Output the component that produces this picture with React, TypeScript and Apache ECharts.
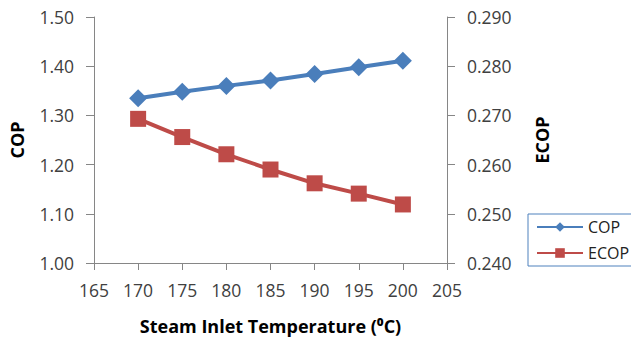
import React, { useEffect, useRef } from "react";
import * as echarts from "echarts";

const temperatures = [170, 175, 180, 185, 190, 195, 200];
const copValues = [1.335, 1.348, 1.36, 1.371, 1.384, 1.398, 1.411];
const ecopValues = [0.2693, 0.2656, 0.2621, 0.259, 0.2562, 0.2541, 0.2519];
const seriesNames = ["COP", "ECOP"];
const xTitle = "Steam Inlet Temperature (⁰C)";

export default function App() {
  const ref = useRef<HTMLDivElement>(null);
  useEffect(() => {
    if (!ref.current) return;
    const chart = echarts.init(ref.current, undefined, { renderer: "svg" });
    const font = "'Open Sans', sans-serif";
    const axisLine = { show: true, lineStyle: { color: "#868686", width: 1 } };
    const axisTick = { show: true, length: 8, lineStyle: { color: "#868686" } };
    chart.setOption({
      animation: false,
      backgroundColor: "#ffffff",
      textStyle: { fontFamily: font },
      grid: { left: 94, right: 184, top: 17, bottom: 79, containLabel: false },
      legend: {
        left: 528,
        top: 214,
        orient: "vertical",
        itemWidth: 46,
        itemHeight: 12,
        itemGap: 10,
        padding: [5, 40, 5, 8],
        borderColor: "#4f81bd",
        borderWidth: 1,
        textStyle: { fontFamily: font, fontSize: 16, color: "#222" },
        data: seriesNames,
      },
      xAxis: {
        type: "value",
        min: 165,
        max: 205,
        interval: 5,
        name: xTitle,
        nameLocation: "middle",
        nameGap: 54,
        nameTextStyle: { fontFamily: font, fontSize: 18, fontWeight: "bold", color: "#000" },
        axisLine,
        axisTick: { ...axisTick, length: 7 },
        splitLine: { show: false },
        axisLabel: { margin: 18, fontSize: 17.5, color: "#404040", fontFamily: font },
      },
      yAxis: [
        {
          type: "value",
          min: 1.0,
          max: 1.5,
          interval: 0.1,
          position: "left",
          name: seriesNames[0],
          nameLocation: "middle",
          nameRotate: 90,
          nameGap: 68,
          nameTextStyle: { fontFamily: font, fontSize: 18, fontWeight: "bold", color: "#000" },
          axisLine,
          axisTick,
          splitLine: { show: false },
          axisLabel: {
            margin: 20,
            fontSize: 17.5,
            color: "#404040",
            fontFamily: font,
            formatter: (v: number) => v.toFixed(2),
          },
        },
        {
          type: "value",
          min: 0.24,
          max: 0.29,
          interval: 0.01,
          position: "right",
          name: seriesNames[1],
          nameLocation: "middle",
          nameRotate: 90,
          nameGap: 86,
          nameTextStyle: { fontFamily: font, fontSize: 18, fontWeight: "bold", color: "#000" },
          axisLine,
          axisTick,
          splitLine: { show: false },
          axisLabel: {
            margin: 20,
            fontSize: 17.5,
            color: "#404040",
            fontFamily: font,
            formatter: (v: number) => v.toFixed(3),
          },
        },
      ],
      series: [
        {
          name: seriesNames[0],
          type: "line",
          yAxisIndex: 0,
          data: temperatures.map((t, i) => [t, copValues[i]]),
          symbol: "diamond",
          symbolSize: 18,
          lineStyle: { color: "#4a7ebb", width: 4 },
          itemStyle: { color: "#4a7ebb" },
        },
        {
          name: seriesNames[1],
          type: "line",
          yAxisIndex: 1,
          data: temperatures.map((t, i) => [t, ecopValues[i]]),
          symbol: "rect",
          symbolSize: 16,
          lineStyle: { color: "#be4b48", width: 4 },
          itemStyle: { color: "#be4b48" },
        },
      ],
    });
    return () => chart.dispose();
  }, []);
  return <div ref={ref} style={{ width: 631, height: 342, position: "absolute", left: 0, top: 0 }} />;
}
